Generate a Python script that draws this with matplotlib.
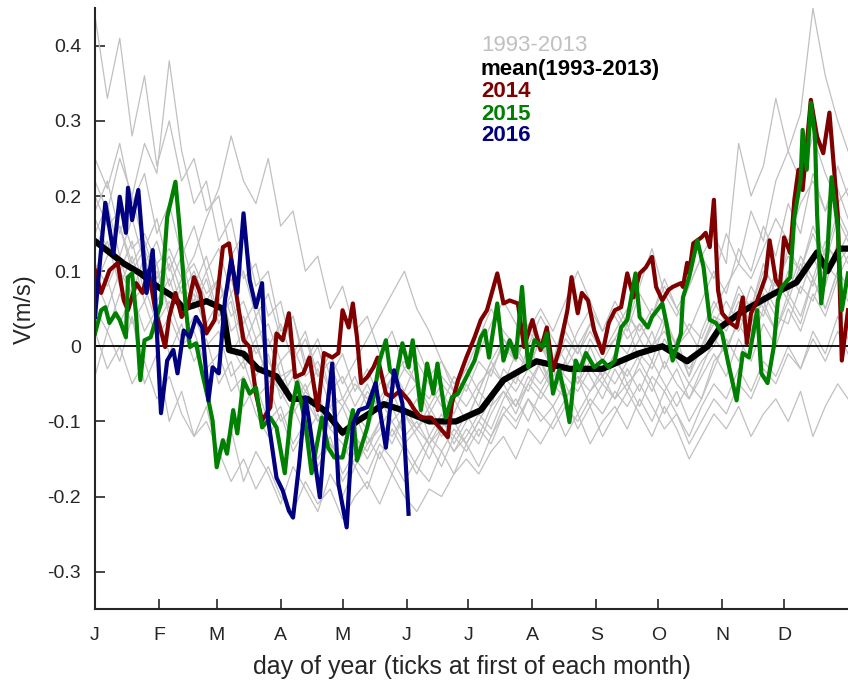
import numpy as np
import matplotlib.pyplot as plt

plt.rcParams['font.family'] = ['Liberation Sans', 'DejaVu Sans']

# month ticks (first day of each month, day of year)
month_days = [1, 32, 60, 91, 121, 152, 182, 213, 244, 274, 305, 335]
month_labels = ['J', 'F', 'M', 'A', 'M', 'J', 'J', 'A', 'S', 'O', 'N', 'D']

gray_days = list(range(1, 362, 6)) + [366]
gray_years = [
    [0.44, 0.33, 0.41, 0.28, 0.36, 0.24, 0.30, 0.22, 0.25, 0.18,
     0.20, 0.12, 0.15, 0.08, 0.10, 0.02, 0.04, -0.03, 0.00, -0.06,
     -0.04, -0.08, -0.05, -0.09, -0.06, -0.10, -0.07, -0.12, -0.09, -0.13,
     -0.10, -0.06, -0.08, -0.03, -0.05, 0.00, -0.03, -0.06, -0.02, -0.05,
     0.00, -0.04, -0.01, 0.03, -0.02, 0.02, -0.03, 0.01, -0.04, 0.02,
     0.06, 0.03, 0.08, 0.05, 0.11, 0.07, 0.13, 0.10, 0.16, 0.12,
     0.18, 0.15],
    [0.22, 0.18, 0.25, 0.20, 0.27, 0.23, 0.38, 0.26, 0.19, 0.22,
     0.14, 0.17, 0.09, 0.11, 0.04, 0.06, -0.01, 0.02, -0.04, -0.02,
     -0.07, -0.04, -0.08, -0.05, -0.03, -0.06, -0.02, -0.05, -0.08, -0.04,
     -0.06, -0.02, -0.04, 0.01, -0.02, 0.03, 0.00, -0.02, 0.02, -0.01,
     0.03, 0.00, 0.05, 0.02, 0.07, 0.04, 0.09, 0.05, 0.08, 0.12,
     0.09, 0.15, 0.11, 0.18, 0.14, 0.22, 0.26, 0.31, 0.45, 0.36,
     0.30, 0.26],
    [-0.04, 0.02, -0.02, 0.04, -0.05, -0.01, -0.10, -0.06, -0.12, -0.08,
     -0.15, -0.11, -0.18, -0.14, -0.17, -0.21, -0.16, -0.19, -0.22, -0.17,
     -0.20, -0.16, -0.19, -0.14, -0.17, -0.13, -0.16, -0.18, -0.14, -0.17,
     -0.13, -0.16, -0.12, -0.09, -0.11, -0.07, -0.10, -0.08, -0.12, -0.09,
     -0.13, -0.10, -0.08, -0.11, -0.07, -0.10, -0.06, -0.09, -0.13, -0.10,
     -0.07, -0.09, -0.05, -0.07, -0.03, -0.05, -0.01, -0.03, 0.01, -0.02,
     0.02, -0.01],
    [0.20, 0.16, 0.18, 0.13, 0.15, 0.11, 0.13, 0.09, 0.11, 0.07,
     0.09, 0.04, 0.06, 0.01, 0.03, -0.02, 0.00, -0.04, -0.02, -0.06,
     -0.08, -0.05, -0.07, -0.04, -0.06, -0.03, -0.05, -0.07, -0.04, -0.06,
     -0.08, -0.05, -0.03, 0.00, -0.02, 0.02, 0.00, -0.03, 0.01, -0.01,
     0.02, -0.01, 0.01, 0.04, 0.02, 0.05, 0.03, 0.00, 0.03, 0.01,
     0.05, 0.08, 0.11, 0.09, 0.13, 0.17, 0.14, 0.19, 0.22, 0.18,
     0.24, 0.20],
    [0.10, 0.14, 0.08, 0.12, 0.06, 0.10, 0.05, 0.09, 0.12, 0.17,
     0.21, 0.28, 0.22, 0.19, 0.25, 0.16, 0.18, 0.10, 0.12, 0.05,
     0.08, 0.02, 0.04, -0.01, 0.02, -0.03, 0.00, -0.04, -0.02, -0.06,
     -0.03, 0.01, 0.05, 0.02, 0.00, -0.03, 0.01, -0.02, 0.04, 0.00,
     0.03, -0.01, 0.02, 0.05, 0.01, 0.04, 0.08, 0.05, 0.02, 0.06,
     0.10, 0.07, 0.13, 0.10, 0.16, 0.12, 0.19, 0.15, 0.23, 0.18,
     0.21, 0.17],
    [0.06, 0.09, 0.03, 0.07, 0.02, 0.05, -0.01, 0.03, -0.02, 0.01,
     -0.05, -0.02, -0.08, -0.05, -0.10, -0.08, -0.13, -0.10, -0.15, -0.12,
     -0.17, -0.14, -0.12, -0.15, -0.11, -0.14, -0.17, -0.13, -0.16, -0.12,
     -0.14, -0.11, -0.13, -0.09, -0.07, -0.10, -0.06, -0.08, -0.05, -0.09,
     -0.06, -0.04, -0.07, -0.05, -0.08, -0.04, -0.06, -0.03, -0.07, -0.04,
     -0.01, -0.04, 0.01, -0.02, 0.03, 0.00, 0.05, 0.02, 0.07, 0.04,
     0.09, 0.06],
    [0.25, 0.21, 0.27, 0.19, 0.23, 0.15, 0.19, 0.12, 0.16, 0.10,
     0.13, 0.07, 0.10, 0.04, 0.07, 0.01, 0.04, -0.02, 0.01, -0.04,
     -0.01, -0.06, -0.03, -0.07, -0.04, -0.02, -0.05, -0.08, -0.05, -0.07,
     -0.04, -0.01, 0.03, 0.06, 0.03, 0.00, 0.04, 0.01, -0.02, 0.02,
     0.05, 0.02, 0.06, 0.03, 0.08, 0.13, 0.07, 0.04, 0.08, 0.12,
     0.15, 0.11, 0.27, 0.20, 0.24, 0.33, 0.26, 0.22, 0.28, 0.23,
     0.19, 0.21],
    [0.02, -0.03, 0.00, -0.05, -0.02, -0.07, -0.04, -0.09, -0.12, -0.10,
     -0.14, -0.18, -0.15, -0.19, -0.16, -0.20, -0.22, -0.18, -0.21, -0.19,
     -0.23, -0.20, -0.18, -0.21, -0.17, -0.20, -0.22, -0.19, -0.20, -0.17,
     -0.15, -0.17, -0.14, -0.12, -0.15, -0.11, -0.13, -0.10, -0.07, -0.11,
     -0.08, -0.12, -0.09, -0.06, -0.09, -0.12, -0.08, -0.11, -0.15, -0.12,
     -0.09, -0.11, -0.08, -0.12, -0.09, -0.07, -0.10, -0.06, -0.12, -0.08,
     -0.05, -0.07],
    [0.15, 0.19, 0.12, 0.17, 0.11, 0.14, 0.08, 0.12, 0.05, 0.09,
     0.03, 0.07, 0.00, 0.04, -0.02, -0.05, -0.03, -0.07, -0.10, -0.08,
     -0.12, -0.09, -0.13, -0.11, -0.08, -0.12, -0.10, -0.13, -0.11, -0.14,
     -0.12, -0.09, -0.11, -0.07, -0.04, -0.06, -0.02, -0.05, -0.07, -0.04,
     -0.06, -0.03, -0.05, -0.02, 0.01, -0.02, 0.03, 0.00, -0.04, 0.00,
     0.03, 0.06, 0.03, 0.08, 0.05, 0.10, 0.07, 0.12, 0.09, 0.14,
     0.11, 0.13],
    [0.08, 0.12, 0.16, 0.10, 0.13, 0.08, 0.11, 0.05, 0.08, 0.03,
     0.06, -0.01, 0.02, -0.04, -0.01, -0.07, -0.04, -0.09, -0.06, -0.11,
     -0.08, -0.12, -0.15, -0.12, -0.10, -0.13, -0.11, -0.08, -0.11, -0.07,
     -0.10, -0.06, -0.02, -0.05, -0.08, -0.05, -0.02, -0.06, -0.03, 0.00,
     -0.04, -0.07, -0.03, -0.06, -0.02, -0.05, -0.09, -0.06, -0.10, -0.07,
     -0.03, 0.01, -0.02, 0.03, 0.06, 0.02, 0.07, 0.04, 0.09, 0.05,
     0.10, 0.08],
    [0.17, 0.13, 0.16, 0.11, 0.14, 0.09, 0.12, 0.07, 0.10, 0.06,
     0.09, 0.02, 0.04, -0.01, 0.01, -0.04, -0.03, -0.06, -0.03, -0.08,
     -0.07, -0.10, -0.06, -0.08, -0.04, -0.07, -0.05, -0.09, -0.06, -0.09,
     -0.05, -0.08, -0.03, -0.05, -0.01, -0.03, 0.01, -0.03, 0.00, -0.03,
     0.01, -0.02, 0.01, -0.01, 0.03, 0.00, 0.04, 0.00, 0.02, -0.01,
     0.04, 0.03, 0.07, 0.05, 0.10, 0.08, 0.12, 0.10, 0.15, 0.11,
     0.17, 0.14],
    [0.11, 0.08, 0.12, 0.06, 0.08, 0.03, 0.06, 0.01, 0.04, 0.00,
     0.02, -0.04, -0.02, -0.07, -0.05, -0.10, -0.08, -0.12, -0.09, -0.13,
     -0.15, -0.12, -0.14, -0.10, -0.13, -0.09, -0.12, -0.15, -0.11, -0.14,
     -0.11, -0.13, -0.09, -0.06, -0.08, -0.04, -0.06, -0.03, -0.07, -0.04,
     -0.08, -0.05, -0.07, -0.03, -0.06, -0.02, -0.05, -0.08, -0.05, -0.07,
     -0.02, 0.00, 0.03, 0.00, 0.05, 0.02, 0.06, 0.03, 0.09, 0.05,
     0.10, 0.08],
    [0.13, 0.17, 0.10, 0.14, 0.07, 0.11, 0.04, 0.08, 0.06, 0.10,
     0.04, 0.06, -0.02, 0.01, -0.05, -0.02, -0.08, -0.05, -0.10, -0.07,
     -0.12, -0.09, -0.11, -0.07, -0.10, -0.08, -0.11, -0.09, -0.12, -0.10,
     -0.13, -0.10, -0.07, -0.04, -0.06, -0.03, -0.05, -0.02, -0.04, -0.06,
     -0.03, -0.05, -0.02, -0.04, -0.01, -0.03, 0.01, -0.02, -0.05, -0.02,
     0.00, 0.04, 0.02, 0.06, 0.04, 0.09, 0.06, 0.11, 0.08, 0.13,
     0.12, 0.15],
    [0.09, 0.05, 0.10, 0.07, 0.12, 0.06, 0.09, 0.04, 0.07, 0.02,
     0.05, 0.00, -0.03, 0.00, -0.04, -0.06, -0.09, -0.06, -0.08, -0.11,
     -0.13, -0.16, -0.13, -0.10, -0.12, -0.09, -0.11, -0.13, -0.10, -0.12,
     -0.09, -0.12, -0.08, -0.06, -0.09, -0.05, -0.07, -0.04, -0.02, -0.05,
     -0.02, -0.04, -0.01, -0.05, -0.03, -0.06, -0.02, -0.05, -0.07, -0.03,
     0.01, -0.01, 0.04, 0.02, 0.07, 0.04, 0.03, 0.08, 0.06, 0.11,
     0.09, 0.12],
    [0.18, 0.22, 0.15, 0.20, 0.13, 0.17, 0.10, 0.14, 0.08, 0.12,
     0.06, 0.09, 0.03, 0.06, 0.00, 0.03, -0.02, 0.01, -0.04, -0.01,
     -0.05, -0.02, 0.01, 0.04, 0.07, 0.10, 0.05, 0.02, -0.02, -0.05,
     -0.03, -0.06, -0.02, 0.01, -0.01, 0.02, 0.05, 0.02, 0.06, 0.10,
     0.06, 0.02, 0.04, 0.01, 0.03, 0.00, 0.02, -0.01, -0.03, 0.00,
     0.04, 0.02, 0.06, 0.03, 0.08, 0.05, 0.10, 0.07, 0.12, 0.08,
     0.14, 0.11],
    [0.05, 0.02, 0.07, 0.03, 0.06, 0.01, 0.04, 0.00, 0.02, -0.03,
     -0.01, -0.06, -0.04, -0.09, -0.12, -0.09, -0.14, -0.11, -0.16, -0.13,
     -0.18, -0.15, -0.17, -0.13, -0.15, -0.18, -0.15, -0.12, -0.14, -0.11,
     -0.13, -0.10, -0.12, -0.08, -0.10, -0.07, -0.09, -0.11, -0.08, -0.10,
     -0.07, -0.09, -0.06, -0.08, -0.05, -0.08, -0.11, -0.09, -0.12, -0.08,
     -0.05, -0.07, -0.03, -0.06, -0.02, -0.04, 0.00, -0.03, 0.02, -0.01,
     0.04, 0.01],
]

# mean(1993-2013)
mean_days = [1, 15, 23, 31, 39, 44, 55, 63, 66, 73, 80, 89, 96, 104, 112, 121,
             128, 141, 150, 163, 176, 188, 199, 215, 231, 247, 264, 276, 288,
             298, 304, 314, 330, 341, 351, 356, 362, 366]
mean_vals = [0.14, 0.11, 0.097, 0.08, 0.066, 0.05, 0.06, 0.05, -0.005, -0.01,
             -0.03, -0.04, -0.07, -0.07, -0.085, -0.115, -0.10, -0.077, -0.085,
             -0.10, -0.10, -0.085, -0.045, -0.02, -0.03, -0.03, -0.01, 0.0,
             -0.02, 0.0, 0.025, 0.045, 0.07, 0.085, 0.125, 0.10, 0.13, 0.13]

# 2014
d2014 = [1, 4, 8, 12, 15, 17, 21, 24, 27, 30, 35, 37, 40, 43, 46, 49, 52, 55,
         59, 63, 66, 70, 73, 76, 79, 82, 86, 89, 92, 95, 98, 102, 105, 109,
         112, 116, 119, 121, 124, 126, 128, 130, 133, 136, 138, 142, 145, 149,
         153, 156, 159, 164, 168, 172, 174, 177, 181, 185, 188, 191, 196, 199,
         202, 206, 209, 213, 217, 220, 223, 226, 230, 232, 235, 237, 240, 243,
         247, 250, 253, 256, 259, 262, 265, 268, 271, 273, 276, 279, 281, 285,
         286, 288, 289, 291, 295, 297, 299, 301, 303, 305, 309, 312, 315, 317,
         319, 322, 326, 328, 331, 333, 335, 338, 340, 342, 344, 348, 351, 354,
         357, 361, 363, 366]
v2014 = [0.101, 0.071, 0.101, 0.111, 0.061, 0.048, 0.084, 0.071, 0.101, 0.052,
         -0.001, 0.039, 0.071, 0.039, 0.052, 0.092, 0.071, 0.017, 0.035, 0.132,
         0.137, 0.061, 0.008, -0.001, -0.063, -0.099, -0.081, 0.017, 0.008,
         0.044, -0.041, -0.036, -0.015, -0.085, -0.009, -0.015, -0.009, 0.048,
         0.025, 0.057, 0.012, -0.049, -0.041, -0.028, -0.015, -0.063, -0.068,
         -0.059, -0.072, -0.085, -0.095, -0.095, -0.108, -0.121, -0.076,
         -0.045, -0.015, 0.012, 0.035, 0.048, 0.097, 0.057, 0.061, 0.057,
         -0.001, 0.035, -0.005, 0.025, -0.032, -0.005, 0.048, 0.092, 0.044,
         0.071, 0.061, 0.021, -0.009, 0.031, 0.048, 0.052, 0.097, 0.065, 0.097,
         0.105, 0.119, 0.079, 0.061, 0.075, 0.079, 0.084, 0.079, 0.111, 0.097,
         0.137, 0.145, 0.151, 0.132, 0.195, 0.075, 0.044, 0.031, 0.025, 0.065,
         0.004, 0.044, 0.061, 0.092, 0.141, 0.088, 0.079, 0.145, 0.124, 0.195,
         0.235, 0.208, 0.328, 0.279, 0.257, 0.311, 0.177, -0.019, 0.048]

# 2015
d2015 = [1, 4, 6, 8, 11, 13, 16, 17, 19, 21, 23, 25, 28, 30, 33, 36, 40, 42,
         45, 47, 50, 53, 56, 58, 60, 63, 65, 68, 70, 73, 76, 79, 82, 86, 89,
         93, 96, 99, 103, 106, 111, 114, 117, 121, 126, 128, 133, 136, 139,
         142, 144, 147, 150, 153, 155, 159, 162, 165, 167, 171, 174, 177, 181,
         185, 188, 190, 192, 196, 199, 202, 205, 208, 211, 214, 218, 220, 223,
         226, 229, 231, 234, 236, 239, 243, 247, 250, 253, 256, 259, 263, 265,
         269, 271, 276, 278, 281, 285, 286, 289, 293, 296, 299, 302, 305, 308,
         312, 315, 318, 322, 324, 327, 330, 332, 334, 338, 340, 343, 344, 346,
         348, 350, 351, 353, 356, 358, 361, 363, 366]
v2015 = [0.017, 0.048, 0.052, 0.031, 0.044, 0.035, 0.012, 0.092, 0.097, 0.039,
         -0.045, 0.008, 0.012, 0.031, 0.057, 0.172, 0.219, 0.159, 0.052, -0.001,
         0.004, -0.036, -0.072, -0.099, -0.161, -0.125, -0.143, -0.085, -0.116,
         -0.045, -0.063, -0.055, -0.108, -0.095, -0.108, -0.169, -0.089,
         -0.048, -0.103, -0.169, -0.095, -0.135, -0.148, -0.148, -0.085,
         -0.152, -0.108, -0.068, -0.019, 0.008, -0.032, -0.041, 0.004, -0.028,
         0.008, -0.085, -0.023, -0.063, -0.023, -0.095, -0.068, -0.063, -0.041,
         -0.019, 0.012, 0.021, -0.015, 0.057, -0.019, 0.008, -0.015, 0.079,
         -0.028, 0.008, -0.001, 0.017, -0.063, -0.032, -0.068, -0.101, -0.019,
         -0.032, -0.009, -0.028, -0.019, -0.028, -0.019, 0.025, 0.035, 0.097,
         0.039, 0.025, 0.039, 0.057, 0.031, -0.019, 0.017, 0.065, 0.092, 0.141,
         0.105, 0.035, 0.031, 0.017, -0.023, -0.072, -0.009, -0.015, 0.048,
         -0.036, -0.049, -0.001, 0.061, 0.079, 0.092, 0.172, 0.221, 0.288,
         0.235, 0.324, 0.279, 0.177, 0.057, 0.124, 0.225, 0.159, 0.048, 0.097]

# 2016 (until June 1)
d2016 = [1, 6, 10, 13, 16, 17, 19, 22, 26, 29, 33, 36, 39, 41, 44, 47, 50, 53,
         56, 58, 61, 64, 67, 70, 73, 76, 79, 82, 85, 89, 92, 95, 97, 100, 103,
         105, 110, 113, 116, 119, 123, 126, 129, 133, 137, 142, 146, 150, 153]
v2016 = [0.039, 0.191, 0.124, 0.199, 0.151, 0.211, 0.168, 0.208, 0.071, 0.128,
         -0.089, -0.019, -0.005, -0.036, 0.021, 0.012, 0.039, 0.025, -0.072,
         -0.028, -0.036, 0.061, 0.115, 0.071, 0.177, 0.088, 0.052, 0.084,
         -0.099, -0.175, -0.192, -0.219, -0.228, -0.156, -0.068, -0.103,
         -0.201, -0.095, -0.023, -0.183, -0.241, -0.103, -0.085, -0.081,
         -0.049, -0.135, -0.032, -0.076, -0.223]

c_gray = '#c0c0c0'
c_2014 = '#800000'
c_2015 = '#008000'
c_2016 = '#000080'

fig = plt.figure(figsize=(8.48, 6.83), dpi=100)
ax = fig.add_axes([0.112, 0.108, 0.888, 0.880])

for g in gray_years:
    ax.plot(gray_days, g, color=c_gray, linewidth=0.9)
ax.axhline(0, color='black', linewidth=1.3)
ax.plot(mean_days, mean_vals, color='black', linewidth=4.5)
ax.plot(d2014, v2014, color=c_2014, linewidth=3)
ax.plot(d2015, v2015, color=c_2015, linewidth=3)
ax.plot(d2016, v2016, color=c_2016, linewidth=3)

# legend as colored text
tx = 188
fs = 16
ax.text(tx, 0.400, '1993-2013', color=c_gray, fontsize=fs, va='center')
ax.text(tx, 0.369, 'mean(1993-2013)', color='black', fontsize=fs, fontweight='bold', va='center')
ax.text(tx, 0.339, '2014', color=c_2014, fontsize=fs, fontweight='bold', va='center')
ax.text(tx, 0.309, '2015', color=c_2015, fontsize=fs, fontweight='bold', va='center')
ax.text(tx, 0.280, '2016', color=c_2016, fontsize=fs, fontweight='bold', va='center')

ax.set_xlim(1, 366)
ax.set_ylim(-0.35, 0.45)
ax.set_xticks(month_days)
ax.set_xticklabels(month_labels)
ax.set_yticks([-0.3, -0.2, -0.1, 0, 0.1, 0.2, 0.3, 0.4])
ax.set_yticklabels(['-0.3', '-0.2', '-0.1', '0', '0.1', '0.2', '0.3', '0.4'])
ax.tick_params(direction='in', length=7, width=1.2, labelsize=14, colors='#262626', pad=10)
ax.tick_params(axis='x', pad=13)
ax.spines['top'].set_visible(False)
ax.spines['right'].set_visible(False)
for s in ['left', 'bottom']:
    ax.spines[s].set_linewidth(1.5)
    ax.spines[s].set_color('#262626')
ax.set_xlabel('day of year (ticks at first of each month)', fontsize=18, color='#262626', labelpad=8)
ax.set_ylabel('V(m/s)', fontsize=17, color='#262626', labelpad=8)

fig.savefig('out.png', dpi=100)
